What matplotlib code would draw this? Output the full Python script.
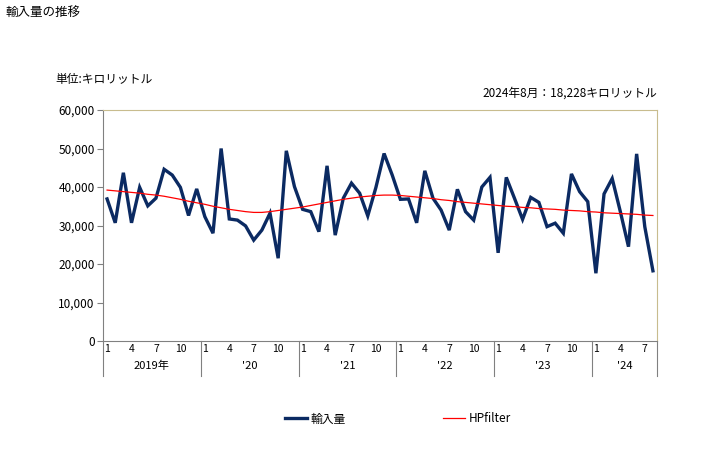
import numpy as np
import matplotlib
matplotlib.use("Agg")
import matplotlib.pyplot as plt
from matplotlib.transforms import blended_transform_factory

plt.rcParams['font.family'] = ['Noto Sans CJK JP', 'DejaVu Sans']

# Data: monthly import volume, Jan 2019 - Aug 2024 (kL)
imports = [36900, 30700, 43700, 30700, 39900, 35100, 37100, 44600, 43100, 39900, 32600, 39500,
           32300, 28000, 50000, 31700, 31400, 29900, 26200, 28800, 33200, 21500, 49400, 40100,
           34200, 33600, 28400, 45500, 27500, 37100, 41000, 38400, 32500, 39900, 48700, 43100,
           36800, 36900, 30700, 44200, 37100, 34000, 28800, 39400, 33600, 31400, 40000, 42500,
           22900, 42500, 37100, 31600, 37300, 36000, 29700, 30600, 28000, 43400, 38800, 36200,
           17600, 38200, 42200, 33600, 24500, 48600, 29700, 18228]
hp_trend = [39200, 39000, 38800, 38600, 38400, 38100, 37900, 37600, 37200, 36800, 36300, 35900,
            35500, 35000, 34600, 34200, 33900, 33600, 33400, 33400, 33600, 33900, 34200, 34500,
            34800, 35200, 35600, 36000, 36400, 36800, 37100, 37400, 37600, 37800, 37900, 37900,
            37800, 37600, 37400, 37200, 37000, 36700, 36500, 36200, 36000, 35800, 35600, 35400,
            35200, 35000, 34900, 34700, 34600, 34400, 34300, 34200, 34000, 33900, 33800, 33600,
            33500, 33300, 33200, 33100, 33000, 32900, 32700, 32600]
year_labels = ["2019年", "'20", "'21", "'22", "'23", "'24"]
month_ticks = [1, 4, 7, 10]

n = len(imports)
x = np.arange(n)
months = [(i % 12) + 1 for i in range(n)]

fig = plt.figure(figsize=(7.28, 4.5), dpi=100)
ax = fig.add_axes([103/728, 1-341/450, (657-103)/728, (341-110)/450])

ax.plot(x, imports, color='#0b2a62', lw=2.4, label='輸入量', solid_joinstyle='miter')
ax.plot(x, hp_trend, color='#ff0000', lw=0.9, label='HPfilter')

ax.set_xlim(-0.5, n - 0.5)
ax.set_ylim(0, 60000)
ax.set_yticks(np.arange(0, 60001, 10000))
ax.set_yticklabels([f"{v:,}" for v in range(0, 60001, 10000)], fontsize=8.5)
ax.tick_params(axis='y', direction='out', length=4, color='#808080', pad=2)

tick_pos = [i for i in range(n) if months[i] in month_ticks]
ax.set_xticks(tick_pos)
ax.set_xticklabels([str(months[i]) for i in tick_pos], fontsize=7.5)
ax.tick_params(axis='x', length=0, pad=2)

for s in ['left', 'bottom']:
    ax.spines[s].set_color('#808080')
for s in ['top', 'right']:
    ax.spines[s].set_color('#c8bc8e')

trans = blended_transform_factory(ax.transData, ax.transAxes)
bounds = list(np.arange(-0.5, n, 12)) + [n - 0.5]
for b in bounds:
    ax.plot([b, b], [0, -35/231], transform=trans, color='#808080', lw=0.8, clip_on=False)
for k, lab in enumerate(year_labels):
    left = -0.5 + 12 * k
    right = min(left + 12, n - 0.5)
    ax.text((left + right) / 2, -25/231, lab, transform=trans, ha='center', va='center', fontsize=8)

fig.text(5/728, 1-12/450, '輸入量の推移', fontsize=9, va='center', ha='left')
fig.text(55/728, 1-80/450, '単位:キロリットル', fontsize=8.5, va='center', ha='left')
fig.text(657/728, 1-93/450, '2024年8月：18,228キロリットル', fontsize=8.5, va='center', ha='right')

leg = fig.legend(loc='center', bbox_to_anchor=(398/728, 1-419/450), ncol=2, frameon=False,
                 fontsize=8.5, handlelength=1.9, columnspacing=8.2, handletextpad=0.3)

fig.savefig('out.png', dpi=100)
